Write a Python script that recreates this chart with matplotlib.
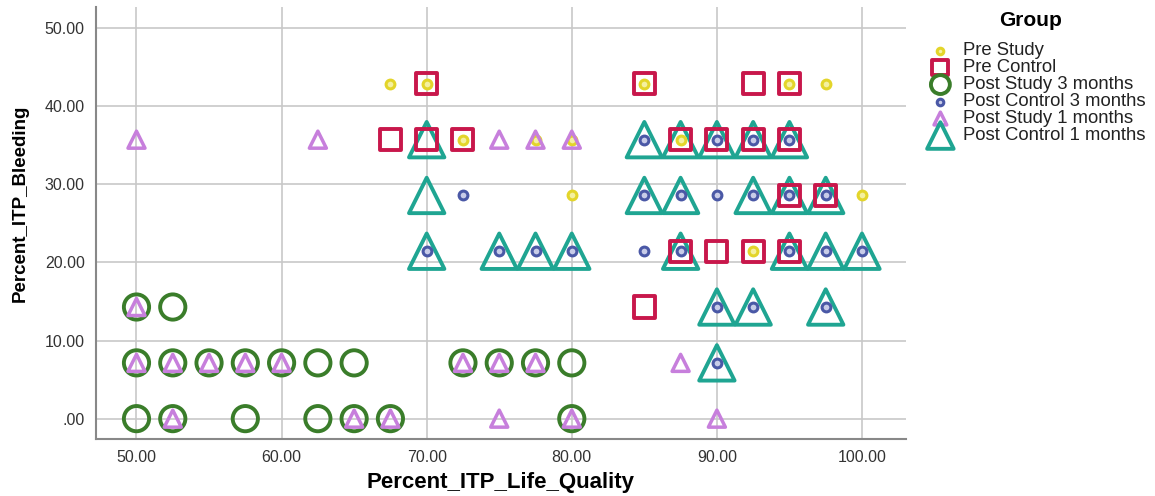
import matplotlib
matplotlib.use("Agg")
import matplotlib.pyplot as plt
from matplotlib.ticker import FuncFormatter

plt.rcParams['font.family'] = ['Liberation Sans', 'DejaVu Sans']

# y levels are multiples of 1/14 of 100
y0, y1, y2, y3, y4, y5, y6 = 0.0, 7.14, 14.29, 21.43, 28.57, 35.71, 42.86

pre_study_x = [67.5, 70, 85, 95, 97.5, 72.5, 77.5, 80, 87.5, 80, 100, 92.5]
pre_study_y = [y6, y6, y6, y6, y6, y5, y5, y5, y5, y4, y4, y3]

pre_control_x = [70, 85, 92.5, 95, 67.5, 70, 72.5, 87.5, 90, 92.5, 95,
                 95, 97.5, 87.5, 90, 92.5, 95, 85]
pre_control_y = [y6, y6, y6, y6, y5, y5, y5, y5, y5, y5, y5,
                 y4, y4, y3, y3, y3, y3, y2]

post_study3_x = [50, 52.5, 50, 52.5, 55, 57.5, 60, 62.5, 65, 72.5, 75, 77.5, 80,
                 50, 52.5, 57.5, 62.5, 65, 67.5, 80]
post_study3_y = [y2, y2, y1, y1, y1, y1, y1, y1, y1, y1, y1, y1, y1,
                 y0, y0, y0, y0, y0, y0, y0]

post_control3_x = [85, 90, 92.5, 95, 72.5, 85, 87.5, 90, 92.5, 95, 97.5,
                   70, 75, 77.5, 80, 85, 87.5, 95, 97.5, 100, 90, 92.5, 97.5, 90]
post_control3_y = [y5, y5, y5, y5, y4, y4, y4, y4, y4, y4, y4,
                   y3, y3, y3, y3, y3, y3, y3, y3, y3, y2, y2, y2, y1]

post_study1_x = [50, 62.5, 75, 77.5, 80, 50, 50, 52.5, 55, 57.5, 60, 72.5, 75, 77.5, 87.5,
                 52.5, 65, 67.5, 75, 80, 90]
post_study1_y = [y5, y5, y5, y5, y5, y2, y1, y1, y1, y1, y1, y1, y1, y1, y1,
                 y0, y0, y0, y0, y0, y0]

post_control1_x = [70, 85, 87.5, 90, 92.5, 95, 70, 85, 87.5, 92.5, 95, 97.5,
                   70, 75, 77.5, 80, 87.5, 95, 97.5, 100, 90, 92.5, 97.5, 90]
post_control1_y = [y5, y5, y5, y5, y5, y5, y4, y4, y4, y4, y4, y4,
                   y3, y3, y3, y3, y3, y3, y3, y3, y2, y2, y2, y1]

fig = plt.figure(figsize=(11.55, 4.96), dpi=100)
ax = fig.add_axes([0.083, 0.115, 0.701, 0.871])

ax.set_xlim(47.2, 103.0)
ax.set_ylim(-2.6, 52.7)
ax.set_xticks([50, 60, 70, 80, 90, 100])
ax.set_yticks([0, 10, 20, 30, 40, 50])
ax.grid(True, color='#c8c8c8', lw=1.2)
ax.set_axisbelow(True)

fmt = FuncFormatter(lambda v, p: ".00" if v == 0 else f"{v:.2f}")
ax.xaxis.set_major_formatter(fmt)
ax.yaxis.set_major_formatter(fmt)
ax.tick_params(length=0, labelsize=11.5, labelcolor='#333333', pad=8)

for s in ['top', 'right']:
    ax.spines[s].set_visible(False)
for s in ['left', 'bottom']:
    ax.spines[s].set_color('#888888')
    ax.spines[s].set_linewidth(1.5)

h_pc1 = ax.scatter(post_control1_x, post_control1_y, marker='^', s=650, facecolors='none',
                   edgecolors='#1fa592', linewidths=2.8, label='Post Control 1 months', zorder=3)
h_pc = ax.scatter(pre_control_x, pre_control_y, marker='s', s=230, facecolors='none',
                  edgecolors='#c8174b', linewidths=2.8, label='Pre Control', zorder=4)
h_ps3 = ax.scatter(post_study3_x, post_study3_y, marker='o', s=330, facecolors='none',
                   edgecolors='#3a7d2a', linewidths=2.8, label='Post Study 3 months', zorder=4)
h_ps = ax.scatter(pre_study_x, pre_study_y, marker='o', s=40, facecolors='#f4f0a0',
                  edgecolors='#e3d52a', linewidths=2.2, label='Pre Study', zorder=5)
h_ps1 = ax.scatter(post_study1_x, post_study1_y, marker='^', s=150, facecolors='none',
                   edgecolors='#c77fdc', linewidths=2.5, label='Post Study 1 months', zorder=6)
h_pc3 = ax.scatter(post_control3_x, post_control3_y, marker='o', s=40, facecolors='#c8cce8',
                   edgecolors='#4a58a6', linewidths=2.2, label='Post Control 3 months', zorder=7)

ax.set_xlabel('Percent_ITP_Life_Quality', fontsize=16, fontweight='bold', labelpad=5)
ax.set_ylabel('Percent_ITP_Bleeding', fontsize=13.5, fontweight='bold')
ax.yaxis.set_label_coords(-0.083, 0.546)

fig.text(1031 / 1155, 1 - 20 / 496, 'Group', fontsize=15, fontweight='bold',
         ha='center', va='center')
leg = fig.legend([h_ps, h_pc, h_ps3, h_pc3, h_ps1, h_pc1],
                 ['Pre Study', 'Pre Control', 'Post Study 3 months', 'Post Control 3 months',
                  'Post Study 1 months', 'Post Control 1 months'],
                 loc='upper left', bbox_to_anchor=(0.795, 1 - 35 / 496), frameon=False,
                 fontsize=13.3, handletextpad=0.4, labelspacing=0.0, markerscale=0.75,
                 handlelength=1.6, borderaxespad=0)
for t in leg.get_texts():
    t.set_color('#222222')

fig.savefig('out.png', dpi=100)
